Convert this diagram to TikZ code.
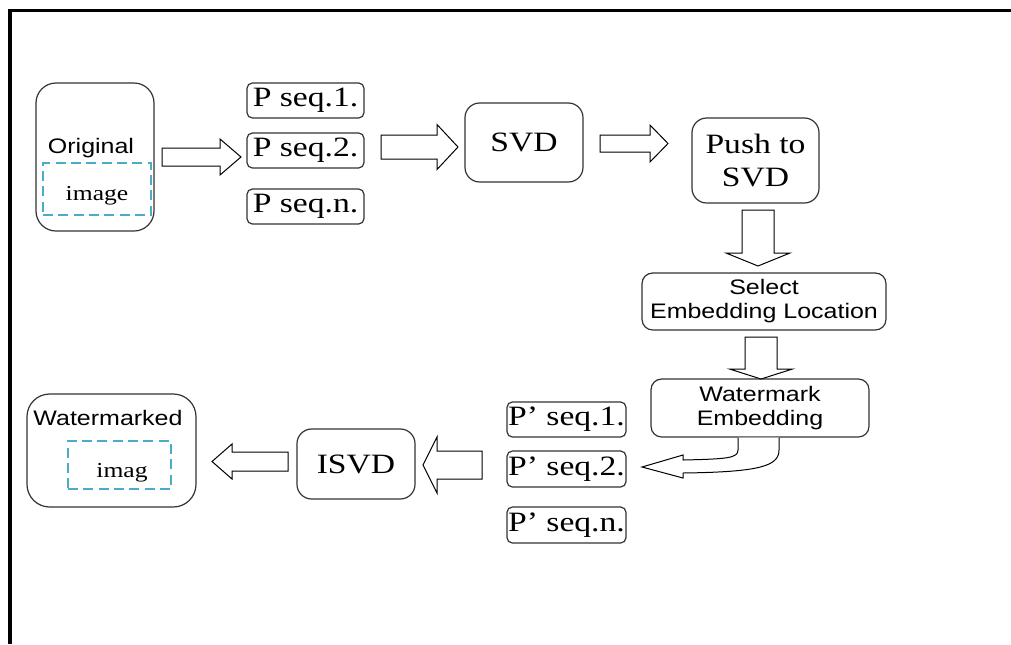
\documentclass[tikz,border=0pt]{standalone}
\usepackage{fontspec}
\setmainfont{Liberation Serif}[FakeStretch=1.2]
\setsansfont{Liberation Sans}[FakeStretch=1.19]
\definecolor{dashcyan}{RGB}{75,172,198}
\newcommand\blockH[6]{% tail x, head-base x, tip x, centre y, shaft half, head half
  \draw[barrow] (#1,#4-#5) -- (#2,#4-#5) -- (#2,#4-#6) -- (#3,#4) -- (#2,#4+#6) -- (#2,#4+#5) -- (#1,#4+#5) -- cycle;}
\newcommand\blockV[6]{% tail y, head-base y, tip y, centre x, shaft half, head half
  \draw[barrow] (#4-#5,#1) -- (#4-#5,#2) -- (#4-#6,#2) -- (#4,#3) -- (#4+#6,#2) -- (#4+#5,#2) -- (#4+#5,#1) -- cycle;}
\begin{document}
\begin{tikzpicture}[x=0.75pt,y=-0.75pt,
  box/.style={draw=black!80, line width=0.9pt, rounded corners=#1, inner sep=0pt, align=center},
  sz/.style 2 args={minimum width=#1*0.75pt, minimum height=#2*0.75pt},
  dashbox/.style={draw=dashcyan, line width=2.1pt, dash pattern=on 7.5pt off 4pt, inner sep=0pt},
  barrow/.style={draw=black, line width=0.75pt, fill=white, line join=miter},
  big/.style={font=\fontsize{21}{24.75}\selectfont},
  mid/.style={font=\fontsize{16}{19}\selectfont},
  sans/.style={font=\sffamily\fontsize{15.75}{18}\selectfont},
  frame/.style={draw=black, line width=2.5pt}]
\useasboundingbox (0,0) rectangle (1011,644);
\draw[frame] (10,644) -- (10,10.8) -- (1012,10.8);

% original image
\node[box=15pt, sz={118}{148}] (orig) at (95,157) {};
\node[dashbox, sz={108}{52}] (origdash) at (97,189) {};
\node[sans, anchor=base, inner sep=0pt] (origtxt) at (91,153) {Original};
\node[mid, anchor=base, inner sep=0pt] (imgtxt) at (97,200) {image};

% P sequences
\node[box=4pt, big, sz={117}{35}] (seq1) at (305.5,100.5) {P seq.1.};
\node[box=4pt, big, sz={117}{35}] (seq2) at (305.5,150.5) {P seq.2.};
\node[box=4pt, big, sz={117}{35}] (seqn) at (305.5,206.5) {P seq.n.};

\node[box=11pt, big, sz={118}{79}] (svd) at (524,142.5) {SVD};
\node[box=11pt, big, sz={127}{85}] (push) at (755.5,160.5) {Push to\\SVD};
\node[box=8pt, sans, sz={244}{57}] (sel) at (764,301.5) {Select\\Embedding Location};
\node[box=8pt, sans, sz={218}{58}] (wm) at (760,408) {Watermark\\Embedding};

\node[box=4pt, big, sz={119}{35}] (ps1) at (566.5,419.5) {P’ seq.1.};
\node[box=4pt, big, sz={119}{36}] (ps2) at (566.5,469) {P’ seq.2.};
\node[box=4pt, big, sz={119}{36}] (psn) at (566.5,525) {P’ seq.n.};

\node[box=11pt, big, sz={118}{70}] (isvd) at (356,464) {ISVD};

\node[box=17pt, sz={169}{113}] (wmk) at (111.5,450.5) {};
\node[dashbox, sz={103}{48}] (wmkdash) at (119.5,465) {};
\node[sans, anchor=base, inner sep=0pt] (wmktxt) at (108,425) {Watermarked};
\node[mid, anchor=base, inner sep=0pt] (imagtxt) at (122,477) {imag};

% block arrows
\blockH{162}{220}{241}{157}{9}{18}
\blockH{381}{437}{458}{147}{12}{22.5}
\blockH{600}{650}{668}{143.5}{8.5}{18.5}
\blockV{210}{253}{266}{758}{16}{32}
\blockV{337}{369}{379}{761}{16}{31.5}
\blockH{482}{437}{423}{465}{14}{28}
\blockH{288}{232}{212}{461.5}{9.5}{17.5}

% curved arrow from Watermark Embedding
\draw[barrow] (738,437.5) -- (738,450) .. controls (738,458) and (728,459) .. (683,460)
  -- (683,455) -- (642,467) -- (683,478) -- (683,473)
  .. controls (760,472) and (779,466) .. (779,450) -- (779,437.5);
\end{tikzpicture}
\end{document}
